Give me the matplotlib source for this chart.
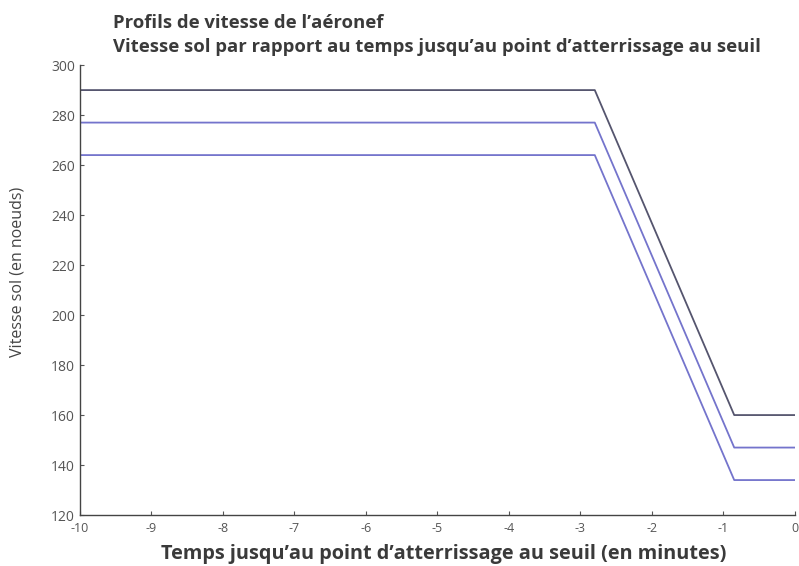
import matplotlib.pyplot as plt

# Profils de vitesse : temps (min) avant le seuil, vitesse sol (noeuds)
temps = [-10, -2.8, -0.85, 0]
vitesse_haute = [290, 290, 160, 160]
vitesse_moyenne = [277, 277, 147, 147]
vitesse_basse = [264, 264, 134, 134]

x_ticks = [-10, -9, -8, -7, -6, -5, -4, -3, -2, -1, 0]
y_ticks = [120, 140, 160, 180, 200, 220, 240, 260, 280, 300]

plt.rcParams['font.family'] = ['Open Sans', 'DejaVu Sans']
plt.rcParams['axes.unicode_minus'] = False

fig = plt.figure(figsize=(7.99, 5.66), dpi=100)
ax = fig.add_axes([0.100, 0.090, 0.895, 0.795])

ax.plot(temps, vitesse_haute, color='#55556e', lw=1.3)
ax.plot(temps, vitesse_moyenne, color='#7474cc', lw=1.3)
ax.plot(temps, vitesse_basse, color='#7474cc', lw=1.3)

ax.set_xlim(-10, 0)
ax.set_ylim(120, 300)
ax.set_xticks(x_ticks)
ax.set_yticks(y_ticks)
ax.tick_params(direction='in', length=3, width=0.8, colors='#555555',
               labelcolor='#555555')
ax.tick_params(axis='y', labelsize=10)
ax.tick_params(axis='x', labelsize=9, pad=5)

for side in ['top', 'right']:
    ax.spines[side].set_visible(False)
for side in ['left', 'bottom']:
    ax.spines[side].set_color('#444444')
    ax.spines[side].set_linewidth(1.0)

fig.text(0.141, 0.960, "Profils de vitesse de l\u2019a\u00e9ronef",
         fontsize=13.3, fontweight='bold', color='#3a3a3a', ha='left', va='center')
fig.text(0.141, 0.917,
         "Vitesse sol par rapport au temps jusqu\u2019au point d\u2019atterrissage au seuil",
         fontsize=13.3, fontweight='bold', color='#3a3a3a', ha='left', va='center')

fig.text(0.555, 0.022, "Temps jusqu\u2019au point d\u2019atterrissage au seuil (en minutes)",
         fontsize=14.3, fontweight='bold', color='#3a3a3a', ha='center', va='center')
fig.text(0.022, 0.52, "Vitesse sol (en noeuds)", rotation=90,
         fontsize=11.5, color='#444444', ha='center', va='center')

fig.savefig('out.png', dpi=100)
